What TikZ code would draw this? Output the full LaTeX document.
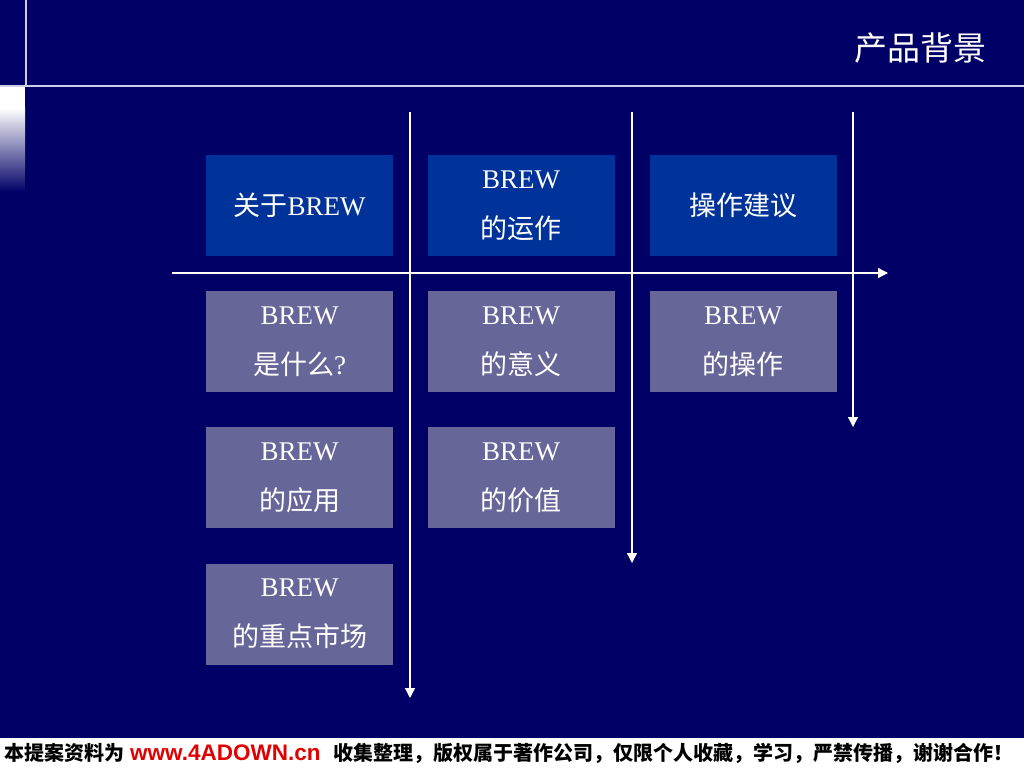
\documentclass[tikz,border=0pt]{standalone}
\usepackage{fontspec}
\setmainfont{Liberation Serif}
\newfontfamily\cjk{Noto Sans CJK SC}
\newfontfamily\arial{Liberation Sans}
\usetikzlibrary{arrows.meta}
\definecolor{bg}{RGB}{0,0,102}
\definecolor{topbox}{RGB}{0,51,153}
\definecolor{lowbox}{RGB}{102,102,153}
\definecolor{rulec}{RGB}{205,205,228}
\definecolor{urlred}{RGB}{225,0,0}
\begin{document}
\begin{tikzpicture}[x=1pt,y=-1pt,
  boxbase/.style={minimum width=187pt,minimum height=101pt,inner sep=0pt,
    text=white,align=center,font=\fontsize{27}{50}\selectfont},
  topcell/.style={boxbase,fill=topbox},
  lowcell/.style={boxbase,fill=lowbox},
  axis/.style={draw=white,line width=1.3pt,-{Triangle[width=10pt,length=10pt]}},
  rulestyle/.style={draw=rulec,line width=1.5pt},
  foot/.style={anchor=west,inner sep=0pt,text=black,font=\cjk\bfseries\fontsize{20}{24}\selectfont}]
\useasboundingbox (0,0) rectangle (1024,770);
\fill[bg] (0,0) rectangle (1024,738);
\fill[white] (0,738) rectangle (1024,770);
% frame rules and gradient tab
\fill[white] (0,87) rectangle (25,108);
\shade[top color=white,bottom color=bg] (0,108) rectangle (25,192);
\coordinate (rtop) at (26,0);
\coordinate (rbot) at (26,86);
\coordinate (hl) at (0,86);
\coordinate (hr) at (1024,86);
\draw[rulestyle] (rtop) -- (rbot);
\draw[rulestyle] (hl) -- (hr);
% title
\node[text=white,font=\cjk\fontsize{33}{36}\selectfont] (title) at (920,48) {产品背景};
% boxes
\node[topcell] (about) at (299.5,205.5) {{\cjk 关于}BREW};
\node[topcell] (run) at (521,205.5) {BREW\\{\cjk 的运作}};
\node[topcell] (advice) at (743,205.5) {{\cjk 操作建议}};
\node[lowcell] (what) at (299.5,341.5) {BREW\\{\cjk 是什么}?};
\node[lowcell] (meaning) at (521,341.5) {BREW\\{\cjk 的意义}};
\node[lowcell] (oper) at (743,341.5) {BREW\\{\cjk 的操作}};
\node[lowcell] (app) at (299.5,477.5) {BREW\\{\cjk 的应用}};
\node[lowcell] (value) at (521,477.5) {BREW\\{\cjk 的价值}};
\node[lowcell] (market) at (299.5,614) {BREW\\{\cjk 的重点市场}};
% axes
\coordinate (v1s) at (410,112); \coordinate (v1e) at (410,698);
\coordinate (v2s) at (632,112); \coordinate (v2e) at (632,563);
\coordinate (v3s) at (853,112); \coordinate (v3e) at (853,427);
\coordinate (hs) at (172,273);  \coordinate (he) at (888,273);
\draw[axis] (v1s) -- (v1e);
\draw[axis] (v2s) -- (v2e);
\draw[axis] (v3s) -- (v3e);
\draw[axis] (hs) -- (he);
% footer
\node[foot] (foot1) at (4,753) {本提案资料为};
\node[foot,font=\arial\bfseries\fontsize{22.5}{24}\selectfont,text=urlred] (foot2) at (130,753) {www.4ADOWN.cn};
\node[foot] (foot3) at (333,753) {收集整理，版权属于著作公司，仅限个人收藏，学习，严禁传播，谢谢合作！};
\end{tikzpicture}
\end{document}
